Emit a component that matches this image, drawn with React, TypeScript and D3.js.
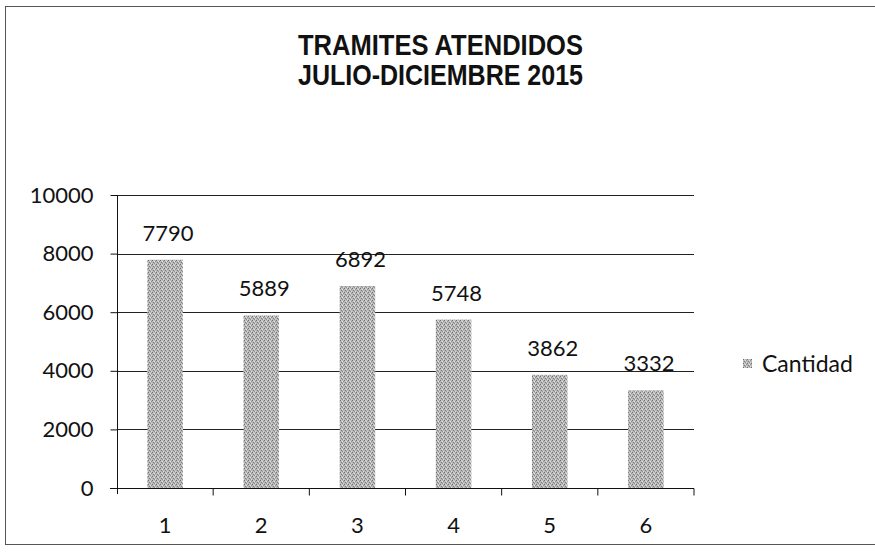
import React, { useEffect, useRef } from 'react';
import * as d3 from 'd3';

// chart data
const categories = ['1', '2', '3', '4', '5', '6'];
const cantidad = [7790, 5889, 6892, 5748, 3862, 3332];
const yTicks = [0, 2000, 4000, 6000, 8000, 10000];
const titleLines = ['TRAMITES ATENDIDOS', 'JULIO-DICIEMBRE 2015'];
const seriesName = 'Cantidad';

const App = () => {
  const svgRef = useRef<SVGSVGElement | null>(null);

  useEffect(() => {
    if (!svgRef.current) return;
    document.body.style.margin = '0';

    const svg = d3.select(svgRef.current);
    svg.selectAll('*').remove();

    const W = 875, H = 556;
    const plot = { left: 117, right: 694, top: 195, bottom: 488 };
    const font = 'Lato, "Open Sans", sans-serif';

    svg.attr('width', W).attr('height', H);

    // stippled grey fill like the scanned bars
    const defs = svg.append('defs');
    const pat = defs.append('pattern')
      .attr('id', 'stipple')
      .attr('patternUnits', 'userSpaceOnUse')
      .attr('width', 4).attr('height', 4);
    pat.append('rect').attr('width', 4).attr('height', 4).attr('fill', '#b8b8b8');
    [[0, 0, '#6e6e6e'], [2, 1, '#e8e8e8'], [1, 2, '#7f7f7f'], [3, 3, '#dcdcdc'], [3, 1, '#909090'], [1, 0, '#d0d0d0'], [2, 3, '#8a8a8a']]
      .forEach(([x, y, c]) => {
        pat.append('rect').attr('x', x).attr('y', y).attr('width', 1).attr('height', 1).attr('fill', c as string);
      });

    svg.append('rect').attr('width', W).attr('height', H).attr('fill', '#fff');

    // chart border
    svg.append('rect')
      .attr('x', 5.5).attr('y', 6.5)
      .attr('width', W - 5).attr('height', 538)
      .attr('fill', 'none')
      .attr('stroke', '#555')
      .attr('stroke-width', 1);

    // title (narrow bold face squeezed to width)
    svg.append('g')
      .selectAll('text')
      .data(titleLines)
      .join('text')
      .attr('x', 298)
      .attr('y', (d, i) => 55 + i * 30)
      .attr('textLength', 285)
      .attr('lengthAdjust', 'spacingAndGlyphs')
      .attr('font-family', '"Liberation Sans", Arial, sans-serif')
      .attr('font-weight', 'bold')
      .attr('font-size', 30)
      .attr('fill', '#111')
      .text(d => d);

    const x = d3.scaleBand()
      .domain(categories)
      .range([plot.left, plot.right])
      .paddingInner(0.63)
      .paddingOuter(0.315);

    const y = d3.scaleLinear()
      .domain([0, 10000])
      .range([plot.bottom, plot.top]);

    // grid lines
    svg.append('g')
      .selectAll('line')
      .data(yTicks.filter(t => t > 0))
      .join('line')
      .attr('x1', plot.left).attr('x2', plot.right)
      .attr('y1', d => Math.round(y(d)) + 0.5)
      .attr('y2', d => Math.round(y(d)) + 0.5)
      .attr('stroke', '#222')
      .attr('stroke-width', 1);

    // bars
    svg.append('g')
      .selectAll('rect')
      .data(cantidad)
      .join('rect')
      .attr('x', (d, i) => x(categories[i]) as number)
      .attr('y', d => y(d))
      .attr('width', x.bandwidth())
      .attr('height', d => y(0) - y(d))
      .attr('fill', 'url(#stipple)');

    // value labels
    svg.append('g')
      .selectAll('text')
      .data(cantidad)
      .join('text')
      .attr('x', (d, i) => (x(categories[i]) as number) + x.bandwidth() / 2 + 3)
      .attr('y', d => y(d) - 19)
      .attr('text-anchor', 'middle')
      .attr('font-family', font)
      .attr('font-size', 22)
      .attr('fill', '#111')
      .text(d => d);

    // y axis
    const yAxis = svg.append('g')
      .attr('transform', `translate(${plot.left + 0.5},0)`)
      .call(d3.axisLeft(y).tickValues(yTicks).tickSize(7).tickPadding(17).tickFormat(d3.format('d')));
    yAxis.select('.domain').attr('stroke', '#111').attr('d', `M0,${plot.bottom + 6}V${plot.top}`);
    yAxis.selectAll('.tick line').attr('stroke', '#111');
    yAxis.selectAll('.tick text')
      .attr('font-family', font)
      .attr('font-size', 22)
      .attr('fill', '#111');

    // x axis with ticks between categories
    const xAxisG = svg.append('g')
      .attr('transform', `translate(0,${Math.round(plot.bottom) + 0.5})`);
    xAxisG.append('line')
      .attr('x1', plot.left - 7).attr('x2', plot.right)
      .attr('stroke', '#111');
    const step = x.step();
    xAxisG.selectAll('line.tk')
      .data(d3.range(1, categories.length + 1))
      .join('line')
      .attr('class', 'tk')
      .attr('x1', i => plot.left + i * step).attr('x2', i => plot.left + i * step)
      .attr('y1', 0).attr('y2', 7)
      .attr('stroke', '#111');
    xAxisG.selectAll('text')
      .data(categories)
      .join('text')
      .attr('x', d => (x(d) as number) + x.bandwidth() / 2)
      .attr('y', 44)
      .attr('text-anchor', 'middle')
      .attr('font-family', font)
      .attr('font-size', 22)
      .attr('fill', '#111')
      .text(d => d);

    // legend
    const legend = svg.append('g').attr('transform', 'translate(743,359)');
    legend.append('rect')
      .attr('width', 9).attr('height', 9)
      .attr('fill', 'url(#stipple)');
    legend.append('text')
      .attr('x', 19).attr('y', 13)
      .attr('font-family', font)
      .attr('font-size', 23)
      .attr('fill', '#111')
      .text(seriesName);
  }, []);

  return <svg ref={svgRef} style={{ display: 'block' }} />;
};

export default App;
